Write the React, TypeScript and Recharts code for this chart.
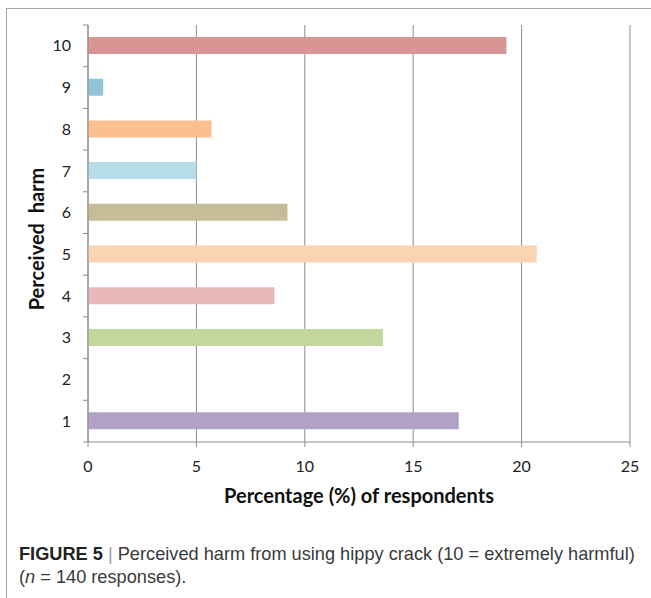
import React from 'react';
import { BarChart, Bar, XAxis, YAxis, CartesianGrid, Cell } from 'recharts';

const harmLevels = ['10', '9', '8', '7', '6', '5', '4', '3', '2', '1'];
const percentages = [19.3, 0.7, 5.7, 5.0, 9.2, 20.7, 8.6, 13.6, 0, 17.1];
const barColors = ['#d99594', '#92c5d7', '#fac08f', '#b7dde8', '#c4bd97', '#fbd4b4', '#e6b9b8', '#c3d69b', '#ccc1da', '#b2a1c7'];
const xTicks = [0, 5, 10, 15, 20, 25];

const data = harmLevels.map((h, i) => ({ harm: h, pct: percentages[i] }));

const axisGrey = '#8c8c8c';
const chartFont = 'Lato, "Open Sans", sans-serif';

const CHART_H = 520;
const MARGIN = { top: 25, right: 21, bottom: 0, left: 28 };
const X_AXIS_H = 78;
const bandH = (CHART_H - MARGIN.top - MARGIN.bottom - X_AXIS_H) / harmLevels.length;
const LABEL_GAP = 17;

// Excel style: labels centred in the band, tick marks on the band edges
const HarmTick = (props: any) => {
  const { x, y, payload, index } = props;
  const axisX = x + LABEL_GAP;
  return (
    <g>
      <line x1={axisX - 5} x2={axisX} y1={y - bandH / 2} y2={y - bandH / 2} stroke={axisGrey} />
      {index === harmLevels.length - 1 && (
        <line x1={axisX - 5} x2={axisX} y1={y + bandH / 2} y2={y + bandH / 2} stroke={axisGrey} />
      )}
      <text x={x} y={y} dy="0.35em" textAnchor="end" fill="#222" fontSize={16} fontFamily={chartFont}>
        {payload.value}
      </text>
    </g>
  );
};

const App: React.FC = () => {
  return (
    <div style={{ position: 'absolute', left: 0, top: 0, width: 651, height: 598, background: '#fff', overflow: 'hidden' }}>
      {/* figure frame */}
      <div style={{ position: 'absolute', left: 6, top: 8, width: 700, height: 700, borderLeft: '1px solid #a6a6a6', borderTop: '1px solid #a6a6a6' }} />

      <div style={{ position: 'absolute', left: 0, top: 0 }}>
        <BarChart
          width={651}
          height={CHART_H}
          data={data}
          layout="vertical"
          margin={MARGIN}
          barCategoryGap={0}
        >
          <CartesianGrid horizontal={false} stroke={axisGrey} strokeWidth={1} />
          <YAxis
            type="category"
            dataKey="harm"
            width={60}
            axisLine={{ stroke: axisGrey }}
            tickLine={false}
            tickSize={0}
            tickMargin={LABEL_GAP}
            tick={<HarmTick />}
            interval={0}
          />
          <XAxis
            type="number"
            domain={[0, 25]}
            ticks={xTicks}
            height={X_AXIS_H}
            tickSize={5}
            tickMargin={14}
            axisLine={{ stroke: axisGrey }}
            tickLine={{ stroke: axisGrey }}
            tick={{ fill: '#222', fontSize: 16, fontFamily: chartFont }}
          />
          <Bar dataKey="pct" barSize={17} isAnimationActive={false}>
            {data.map((d, i) => (
              <Cell key={d.harm} fill={barColors[i]} />
            ))}
          </Bar>
        </BarChart>
      </div>

      {/* axis titles */}
      <div style={{ position: 'absolute', left: 88, width: 542, top: 483, textAlign: 'center', fontFamily: chartFont, fontWeight: 700, fontSize: 20, color: '#111' }}>
        Percentage (%) of respondents
      </div>
      <div style={{ position: 'absolute', left: 36, top: 240, width: 0, height: 0 }}>
        <div style={{ position: 'absolute', left: -110, top: -13, width: 220, textAlign: 'center', transform: 'rotate(-90deg)', fontFamily: chartFont, fontWeight: 700, fontSize: 20, color: '#111', whiteSpace: 'nowrap' }}>
          Perceived&nbsp; harm
        </div>
      </div>

      {/* caption */}
      <div style={{ position: 'absolute', left: 19, top: 543, width: 640, fontFamily: '"Liberation Sans", sans-serif', fontSize: 18.2, lineHeight: '23px', color: '#3a3a3a' }}>
        <div style={{ whiteSpace: 'nowrap' }}>
          <span style={{ fontWeight: 700, color: '#222' }}>FIGURE 5</span> <span style={{ color: '#999' }}>|</span> Perceived harm from using hippy crack (10 = extremely harmful)
        </div>
        <div>
          (<i>n</i> = 140 responses).
        </div>
      </div>
    </div>
  );
};

export default App;
